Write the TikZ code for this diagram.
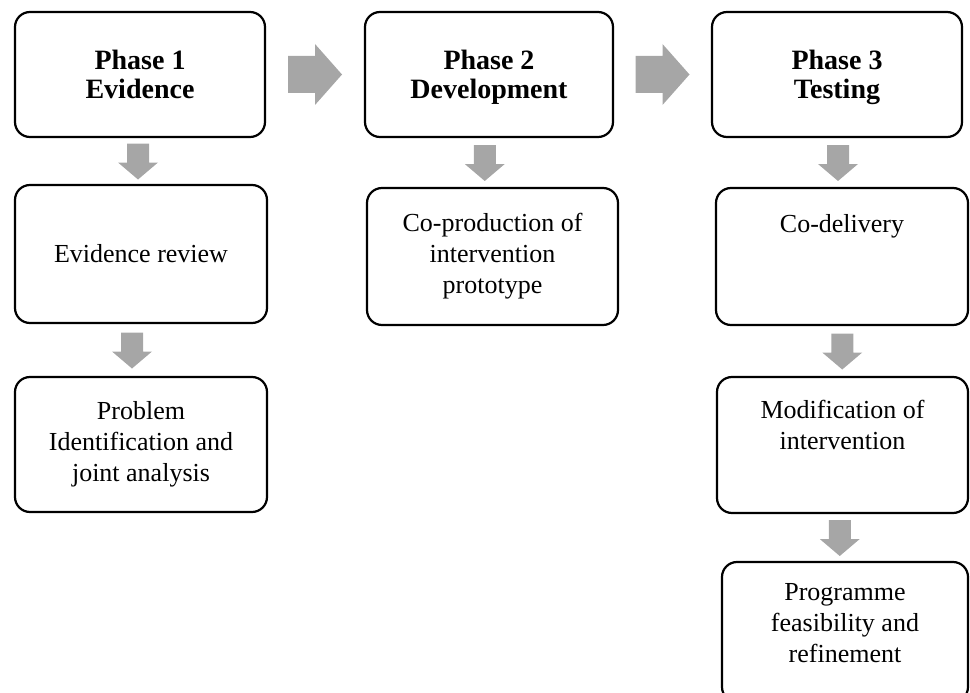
\documentclass[tikz,border=0pt]{standalone}
\usepackage{fontspec}
\setmainfont{Liberation Serif}
\usetikzlibrary{calc}
\definecolor{arrowgray}{HTML}{A6A6A6}
\tikzset{
  box/.style={draw=black, line width=2.2pt, rounded corners=15pt, fill=white, inner sep=0pt, align=center},
  head/.style={font=\fontsize{28}{29}\selectfont\bfseries, text depth=0pt},
  body/.style={font=\fontsize{26}{31}\selectfont},
  txt/.style={inner sep=0pt, align=center, font=\fontsize{26}{31}\selectfont},
  arrowfill/.style={fill=arrowgray, draw=none}
}
\newcommand\dnarr[3]{\fill[arrowfill, shift={($(#1.south)!0.5!(#2.north)+(#3,0)$)}]
  (-11,-17.5) -- (-11,1.5) -- (-20,1.5) -- (0,18.5) -- (20,1.5) -- (11,1.5) -- (11,-17.5) -- cycle;}
\newcommand\rtarr[2]{\fill[arrowfill, shift={($(#1.east)!0.5!(#2.west)$)}]
  (-27,-18.5) -- (0,-18.5) -- (0,-30.5) -- (27,0) -- (0,30.5) -- (0,18.5) -- (-27,18.5) -- cycle;}
\begin{document}
\begin{tikzpicture}[x=1pt,y=-1pt]
\useasboundingbox (0,0) rectangle (970,693);
% phase boxes
\node[box, head, minimum width=250, minimum height=125] (p1) at (140,74.5) {Phase 1\\Evidence};
\node[box, head, minimum width=248, minimum height=125] (p2) at (489,74.5) {Phase 2\\Development};
\node[box, head, minimum width=250, minimum height=125] (p3) at (837,74.5) {Phase 3\\Testing};
% phase 1 column
\node[box, body, minimum width=252, minimum height=138] (e1) at (141,254) {Evidence review};
\node[box, body, minimum width=252, minimum height=135] (e2) at (141,444.5) {Problem\\Identification and\\joint analysis};
% phase 2 column
\node[box, body, minimum width=251, minimum height=137] (d1) at (492.5,256.5) {Co-production of\\intervention\\prototype};
% phase 3 column
\node[box, minimum width=252, minimum height=137] (t1) at (842,256.5) {};
\node[txt, anchor=base] (t1txt) at (842,232) {Co-delivery};
\node[box, minimum width=251, minimum height=136] (t2) at (842.5,445) {};
\node[txt] (t2txt) at (842.5,425) {Modification of\\intervention};
\node[box, minimum width=246, minimum height=140] (t3) at (845,632) {};
\node[txt] (t3txt) at (845,623) {Programme\\feasibility and\\refinement};
% block arrows
\rtarr{p1}{p2}
\rtarr{p2}{p3}
\dnarr{p1}{e1}{-2.5}
\dnarr{e1}{e2}{-9}
\dnarr{p2}{d1}{-6}
\dnarr{p3}{t1}{-1.5}
\dnarr{t1}{t2}{0}
\dnarr{t2}{t3}{-4}
\end{tikzpicture}
\end{document}
